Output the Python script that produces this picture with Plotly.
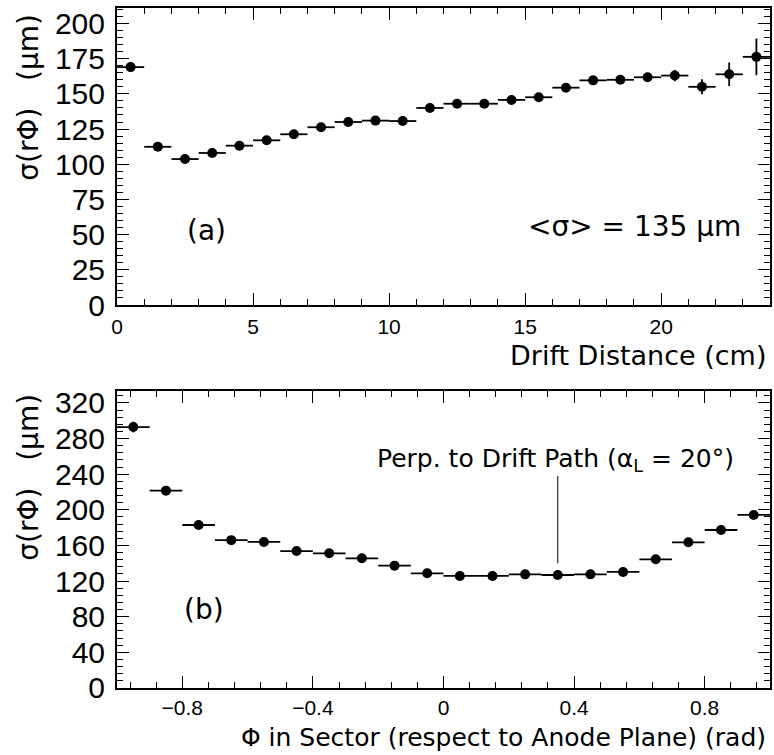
import plotly.graph_objects as go

# ---- Panel (a): resolution vs drift distance ----
drift_cm = [0.5, 1.5, 2.5, 3.5, 4.5, 5.5, 6.5, 7.5, 8.5, 9.5, 10.5, 11.5,
            12.5, 13.5, 14.5, 15.5, 16.5, 17.5, 18.5, 19.5, 20.5, 21.5, 22.5, 23.5]
sigma_a = [169, 112.4, 103.7, 108, 113.2, 117, 121.3, 126.3, 130, 131, 130.7, 140,
           143, 143, 145.7, 147.6, 154.4, 159.6, 160, 161.8, 163, 155, 163.9, 176.3]
sigma_a_err = [2, 1.5, 1.5, 1.5, 1.5, 1.5, 1.5, 1.5, 1.5, 1.5, 1.5, 1.5,
               1.5, 1.5, 1.5, 2, 2, 2, 2, 2.5, 4, 5.3, 8.4, 13]
bin_half_a = 0.5

# ---- Panel (b): resolution vs phi in sector ----
phi_rad = [-0.95, -0.85, -0.75, -0.65, -0.55, -0.45, -0.35, -0.25, -0.15, -0.05,
           0.05, 0.15, 0.25, 0.35, 0.45, 0.55, 0.65, 0.75, 0.85, 0.95]
sigma_b = [293, 221.6, 183, 166, 164, 153.8, 151.2, 145.6, 137.4, 128.8,
           125.8, 125.8, 127.6, 126.9, 127.6, 130.3, 144.5, 163.6, 177.4, 194.3]
sigma_b_err = [6, 3, 2, 2, 2, 2, 2, 2, 2, 2,
               2, 2, 2, 2, 2, 2, 2, 2, 3, 4]
bin_half_b = 0.05

fig = go.Figure()

fig.add_trace(go.Scatter(
    x=drift_cm, y=sigma_a, mode="markers",
    marker=dict(color="black", size=10),
    error_x=dict(type="constant", value=bin_half_a, color="black", thickness=1.8, width=0),
    error_y=dict(type="data", array=sigma_a_err, color="black", thickness=1.8, width=0),
    xaxis="x", yaxis="y", showlegend=False))

fig.add_trace(go.Scatter(
    x=phi_rad, y=sigma_b, mode="markers",
    marker=dict(color="black", size=10),
    error_x=dict(type="constant", value=bin_half_b, color="black", thickness=1.8, width=0),
    error_y=dict(type="data", array=sigma_b_err, color="black", thickness=1.8, width=0),
    xaxis="x2", yaxis="y2", showlegend=False))

tick_font_y = dict(family="Liberation Sans", size=30, color="black")
tick_font_x = dict(family="Liberation Sans", size=21, color="black")
title_font = "DejaVu Sans"

common = dict(showline=True, linecolor="black", linewidth=2, mirror="ticks",
              ticks="inside", ticklen=12, tickwidth=1, tickcolor="black",
              showgrid=False, zeroline=False)

fig.update_layout(
    width=774, height=755,
    margin=dict(l=117, r=2, t=8, b=67),
    paper_bgcolor="white", plot_bgcolor="white",
    xaxis=dict(domain=[0, 1], anchor="y", range=[0, 24], tick0=0, dtick=5,
               tickfont=tick_font_x, ticklabelstandoff=2,
               minor=dict(dtick=1, ticklen=6, ticks="inside", tickcolor="black"),
               **common),
    yaxis=dict(domain=[0.5632, 1], anchor="x", range=[0, 211], tick0=0, dtick=25,
               tickfont=tick_font_y, ticklabelstandoff=4,
               minor=dict(dtick=5, ticklen=6, ticks="inside", tickcolor="black"),
               **common),
    xaxis2=dict(domain=[0, 1], anchor="y2", range=[-1, 1], tick0=0, dtick=0.4,
                tickfont=tick_font_x, tickformat="~g", ticklabelstandoff=0,
                minor=dict(dtick=0.08, tick0=0, ticklen=6, ticks="inside", tickcolor="black"),
                **common),
    yaxis2=dict(domain=[0, 0.4368], anchor="x2", range=[0, 333.5], tick0=0, dtick=40,
                tickfont=tick_font_y, ticklabelstandoff=4,
                minor=dict(dtick=8, ticklen=6, ticks="inside", tickcolor="black"),
                **common),
)

ann_font = dict(family=title_font, size=28, color="black")
xtitle_font = dict(family=title_font, size=27, color="black")
btitle_font = dict(family=title_font, size=25, color="black")
perp_font = dict(family=title_font, size=25, color="black")
annotations = [
    # axis titles
    dict(text="Drift Distance (cm)", xref="paper", yref="paper", x=0.997, y=0.4885,
         xanchor="right", yanchor="middle", showarrow=False, font=xtitle_font),
    dict(text="Φ in Sector (respect to Anode Plane) (rad)", xref="paper", yref="paper",
         x=0.997, y=-0.0735, xanchor="right", yanchor="middle", showarrow=False, font=btitle_font),
    dict(text="σ(rΦ)&nbsp;&nbsp;&nbsp;(μm)", xref="paper", yref="paper", x=-0.136, y=0.994,
         xanchor="center", yanchor="top", textangle=-90, showarrow=False, font=ann_font),
    dict(text="σ(rΦ)&nbsp;&nbsp;&nbsp;(μm)", xref="paper", yref="paper", x=-0.136, y=0.4353,
         xanchor="center", yanchor="top", textangle=-90, showarrow=False, font=ann_font),
    # panel labels
    dict(text="(a)", xref="x", yref="y", x=3.3, y=53, showarrow=False, font=ann_font),
    dict(text="&lt;σ&gt; = 135 μm", xref="x", yref="y", x=23.0, y=55.5,
         xanchor="right", showarrow=False, font=ann_font),
    dict(text="(b)", xref="x2", yref="y2", x=-0.734, y=87.6, showarrow=False, font=ann_font),
    dict(text="Perp. to Drift Path (α<sub>L</sub> = 20°)", xref="x2", yref="y2",
         x=0.344, y=256, showarrow=False, font=perp_font),
]
fig.update_layout(annotations=annotations)

fig.add_shape(type="line", xref="x2", yref="y2", x0=0.35, x1=0.35, y0=140, y1=238,
              line=dict(color="black", width=1))

fig.write_html("out.html")
